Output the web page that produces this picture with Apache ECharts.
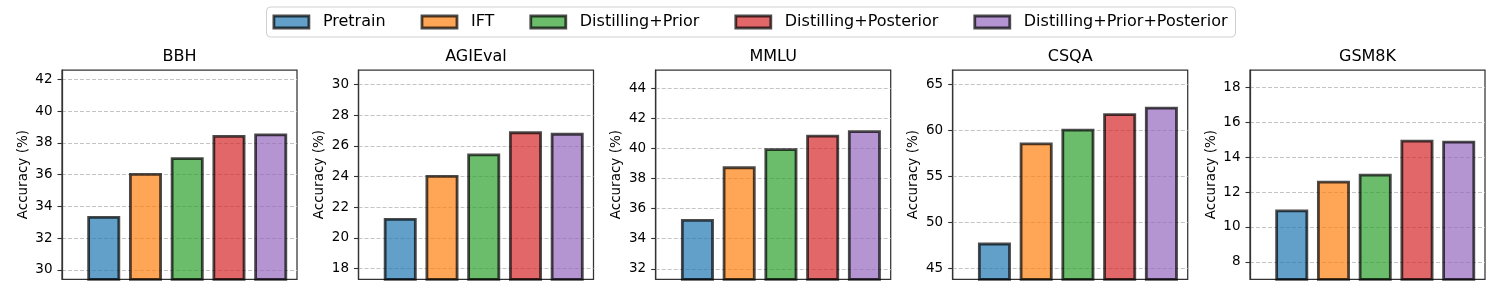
<!DOCTYPE html>
<html><head><meta charset="utf-8">
<script src="https://cdn.jsdelivr.net/npm/echarts@6/dist/echarts.min.js"></script>
<style>html,body{margin:0;padding:0;background:#fff}#c{width:1500px;height:300px}</style>
</head><body><div id="c"></div>
<script>
// ---- data ----
const methods = ['Pretrain', 'IFT', 'Distilling+Prior', 'Distilling+Posterior', 'Distilling+Prior+Posterior'];
const benchmarks = ['BBH', 'AGIEval', 'MMLU', 'CSQA', 'GSM8K'];
const bbh = [33.4, 36.1, 37.1, 38.5, 38.6];
const agieval = [21.3, 24.1, 25.5, 26.95, 26.85];
const mmlu = [35.3, 38.8, 40.0, 40.9, 41.2];
const csqa = [47.8, 58.7, 60.2, 61.9, 62.6];
const gsm8k = [11.0, 12.65, 13.05, 15.0, 14.95];
const bbhTicks = [30, 32, 34, 36, 38, 40, 42];
const agievalTicks = [18, 20, 22, 24, 26, 28, 30];
const mmluTicks = [32, 34, 36, 38, 40, 42, 44];
const csqaTicks = [45, 50, 55, 60, 65];
const gsm8kTicks = [8, 10, 12, 14, 16, 18];

const allValues = [bbh, agieval, mmlu, csqa, gsm8k];
const allTicks = [bbhTicks, agievalTicks, mmluTicks, csqaTicks, gsm8kTicks];

// ---- style / layout ----
const FONT = 'DejaVu Sans';
const fills = ['rgba(31,119,180,0.7)', 'rgba(255,127,14,0.7)', 'rgba(44,160,44,0.7)', 'rgba(214,39,40,0.7)', 'rgba(148,103,189,0.7)'];
const edge = 'rgba(0,0,0,0.7)';
const gridLefts = [62, 358.5, 655.7, 952.7, 1250];
const gridW = 235, gridTop = 70, gridH = 209.3;
const pad = 4;

const grid = [], xAxis = [], yAxis = [], title = [], series = [];
benchmarks.forEach((b, g) => {
  const vals = allValues[g];
  grid.push({left: gridLefts[g], top: gridTop, width: gridW, height: gridH, show: true,
    borderColor: '#333', borderWidth: 1.25, backgroundColor: 'transparent', containLabel: false});
  xAxis.push({gridIndex: g, type: 'value', min: -1, max: 4.63,
    axisLine: {show: false, onZero: false}, axisTick: {show: false}, axisLabel: {show: false}, splitLine: {show: false}});
  yAxis.push({gridIndex: g, type: 'value',
    min: Math.min(...vals) - pad, max: Math.max(...vals) + pad,
    name: 'Accuracy (%)', nameLocation: 'middle', nameGap: 32,
    nameTextStyle: {fontSize: 13.5, color: '#000', fontFamily: FONT},
    axisLine: {show: true, onZero: false, lineStyle: {color: '#333', width: 1.25}},
    axisTick: {show: true, customValues: allTicks[g], length: 4.5, lineStyle: {color: '#333', width: 1.1}},
    axisLabel: {customValues: allTicks[g], color: '#000', fontSize: 13.5, margin: 9.5, fontFamily: FONT},
    splitLine: {show: true, lineStyle: {color: '#c4c4c4', type: [4, 2], width: 1}}
  });
  title.push({text: b, left: gridLefts[g] + gridW / 2, top: 49, textAlign: 'center', padding: 0,
    textStyle: {fontSize: 16, fontWeight: 'normal', color: '#000', fontFamily: FONT}});
  methods.forEach((m, i) => {
    series.push({type: 'bar', name: m, xAxisIndex: g, yAxisIndex: g,
      barWidth: 33, barGap: '-100%', clip: true,
      data: [[i, vals[i]]],
      itemStyle: {color: fills[i], borderColor: edge, borderWidth: 2.8}
    });
  });
});

const chart = echarts.init(document.getElementById('c'), null, {renderer: 'canvas'});
chart.setOption({
  animation: false,
  backgroundColor: '#fff',
  title, grid, xAxis, yAxis, series,
  legend: {
    top: 7, left: 'center', data: methods, icon: 'rect',
    itemWidth: 35, itemHeight: 12, itemGap: 35,
    textStyle: {fontSize: 16, color: '#000', fontFamily: FONT, padding: [0, 0, 0, 9]},
    backgroundColor: '#fff', borderColor: '#d0d0d0', borderWidth: 1, borderRadius: 4,
    padding: [7, 8, 7, 6],
    itemStyle: {borderColor: edge, borderWidth: 2.8}
  }
});
</script>
</body></html>
